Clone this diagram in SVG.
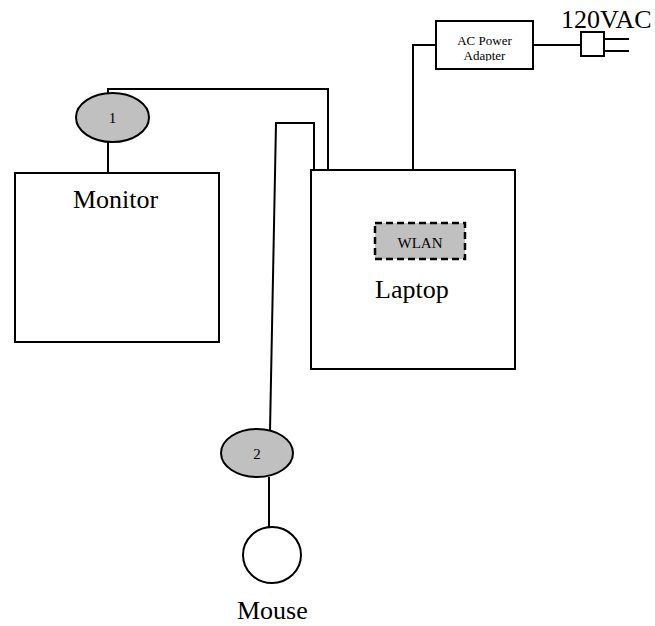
<svg xmlns="http://www.w3.org/2000/svg" width="655" height="626" viewBox="0 0 655 626">
<style>
.ln{fill:none;stroke:#000;stroke-width:2}
.bx{fill:#fff;stroke:#000;stroke-width:2}
.gr{fill:#c0c0c0;stroke:#000;stroke-width:2}
.t{font-family:"Liberation Serif","Times New Roman",serif;fill:#000}
</style>
<defs>
<clipPath id="adclip"><rect x="437" y="22" width="95" height="39"/></clipPath>
</defs>
<rect width="655" height="626" fill="#fff"/>
<g id="connectors">
<polyline class="ln" points="108,173 108,89 328,89 328,170"/>
<polyline class="ln" points="270,431 276,123 314,123 314,170"/>
<line class="ln" x1="269" y1="477" x2="269" y2="527"/>
<polyline class="ln" points="413,170 413,45 436,45"/>
<line class="ln" x1="533" y1="45" x2="581" y2="45"/>
</g>
<g id="monitor">
<rect class="bx" x="15" y="173" width="204" height="169"/>
<text class="t" x="73" y="208" font-size="26">Monitor</text>
</g>
<g id="laptop">
<rect class="bx" x="311" y="170" width="204" height="199"/>
<text class="t" x="375" y="298" font-size="26">Laptop</text>
</g>
<g id="wlan">
<rect x="375" y="223" width="90" height="36" fill="#c0c0c0" stroke="#000" stroke-width="2.5" stroke-dasharray="7,4"/>
<text class="t" x="420" y="248" font-size="15" text-anchor="middle">WLAN</text>
</g>
<g id="cable1">
<ellipse class="gr" cx="112.5" cy="117.5" rx="36.5" ry="24.5"/>
<text class="t" x="112.5" y="123" font-size="15" text-anchor="middle">1</text>
</g>
<g id="cable2">
<ellipse class="gr" cx="257" cy="453" rx="36" ry="24"/>
<text class="t" x="257" y="459" font-size="15" text-anchor="middle">2</text>
</g>
<g id="mouse">
<ellipse class="bx" cx="272" cy="555" rx="29" ry="28"/>
<text class="t" x="237" y="619" font-size="26">Mouse</text>
</g>
<g id="adapter">
<rect class="bx" x="436" y="21" width="97" height="48"/>
<g clip-path="url(#adclip)">
<text class="t" x="484.5" y="45" font-size="13" text-anchor="middle">AC Power</text>
<text class="t" x="484.5" y="60" font-size="13" text-anchor="middle">Adapter</text>
</g>
</g>
<g id="plug">
<rect class="bx" x="581" y="32" width="23" height="24"/>
<line class="ln" x1="604" y1="39" x2="629" y2="39"/>
<line class="ln" x1="604" y1="51" x2="629" y2="51"/>
<text class="t" x="561" y="28" font-size="26">120VAC</text>
</g>
</svg>
